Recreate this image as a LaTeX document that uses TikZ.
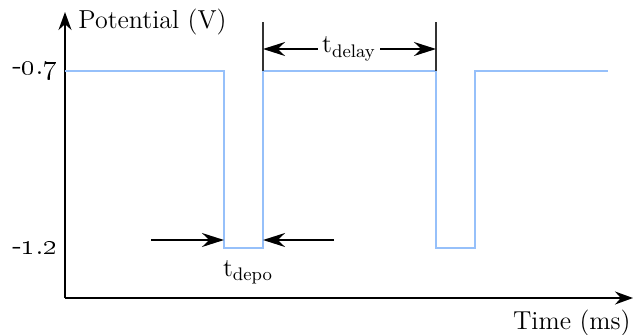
\documentclass[tikz,border=0pt]{standalone}
\usepackage{tikz}
\usetikzlibrary{arrows.meta}
\definecolor{pulseblue}{RGB}{150,192,250}
\tikzset{
  axis/.style={line width=0.8pt,-{Stealth[length=9pt,width=6.5pt]}},
  dimarrow/.style={line width=0.8pt,-{Stealth[length=11pt,width=7pt]}},
  marker/.style={line width=0.6pt,black!80},
  pulse/.style={pulseblue,line width=0.6pt},
  lbl/.style={font=\fontsize{13}{15}\selectfont,inner sep=1pt},
  numlbl/.style={font=\fontsize{14.5}{16}\selectfont,inner sep=1pt}
}
\newcommand{\osn}[1]{\oldstylenums{#1}}

\begin{document}
\begin{tikzpicture}[x=0.5pt,y=0.5pt] % one unit is one pixel of the reference
    \useasboundingbox (0,0) rectangle (633,334);
    % axes
    \coordinate (O) at (65,36);
    \coordinate (Ytop) at (65,322);
    \coordinate (Xend) at (633,36);
    \draw[axis] (O) -- (Ytop);
    \draw[axis] (O) -- (Xend);
    \node (ylabel) at (76,312) [lbl,anchor=west] {Potential (V)};
    \node (xlabel) at (633,5) [lbl,anchor=base east] {Time (ms)};
    \node (high) at (10,263) [numlbl,anchor=west] {-\osn{0}.\osn{7}};
    \node (low) at (10,86) [numlbl,anchor=west] {-\osn{1}.\osn{2}};
    % pulse train
    \coordinate (P0) at (65,263);
    \coordinate (P1) at (224,263);
    \coordinate (P2) at (224,86);
    \coordinate (P3) at (263,86);
    \coordinate (P4) at (263,263);
    \coordinate (P5) at (436,263);
    \coordinate (P6) at (436,86);
    \coordinate (P7) at (475,86);
    \coordinate (P8) at (475,263);
    \coordinate (P9) at (608,263);
    \draw[pulse] (P0) -- (P1) -- (P2) -- (P3) -- (P4) -- (P5) -- (P6) -- (P7) -- (P8) -- (P9);
    % delay marker
    \coordinate (M1) at (263,312);
    \coordinate (M2) at (436,312);
    \draw[marker] (P4) -- (M1);
    \draw[marker] (P5) -- (M2);
    \node (delay) at (349,285) [lbl,inner sep=2pt] {t\textsubscript{delay}};
    \coordinate (D1) at (263,285);
    \coordinate (D2) at (436,285);
    \draw[dimarrow] (delay.west) -- (D1);
    \draw[dimarrow] (delay.east) -- (D2);
    % depolarisation width
    \coordinate (E0) at (151,94);
    \coordinate (E1) at (224,94);
    \coordinate (E2) at (263,94);
    \coordinate (E3) at (334,94);
    \draw[dimarrow] (E0) -- (E1);
    \draw[dimarrow] (E3) -- (E2);
    \node (depo) at (248,62) [lbl] {t\textsubscript{depo}};
\end{tikzpicture}
\end{document}
